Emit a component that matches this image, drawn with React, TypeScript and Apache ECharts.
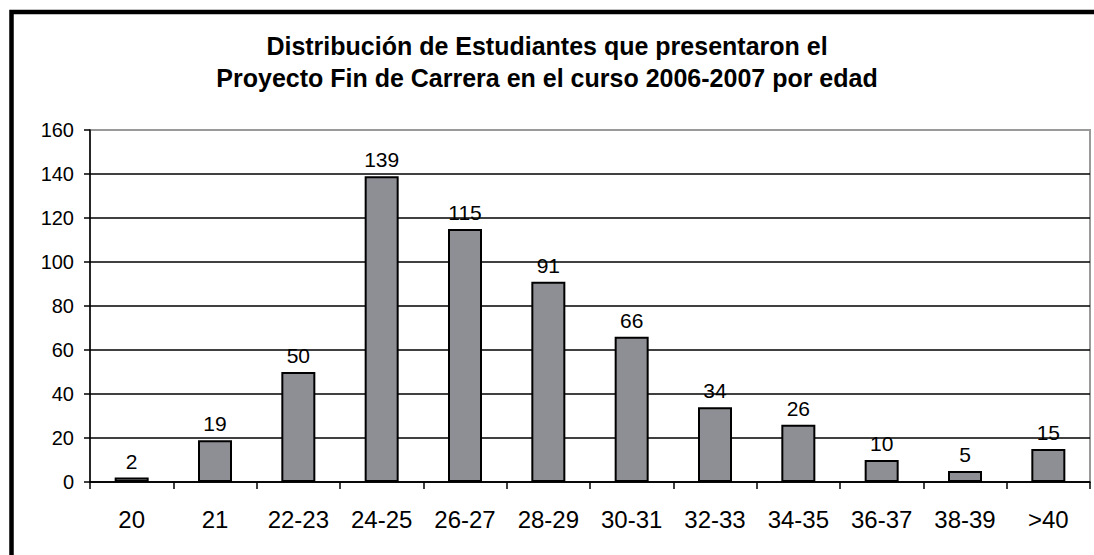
import React, { useEffect, useRef } from "react";
import * as echarts from "echarts";

const titleLines = [
  "Distribución de Estudiantes que presentaron el",
  "Proyecto Fin de Carrera en el curso 2006-2007 por edad",
];
const categories = ["20", "21", "22-23", "24-25", "26-27", "28-29", "30-31", "32-33", "34-35", "36-37", "38-39", ">40"];
const students = [2, 19, 50, 139, 115, 91, 66, 34, 26, 10, 5, 15];
const yMin = 0;
const yMax = 160;
const yStep = 20;

export default function App() {
  const ref = useRef<HTMLDivElement>(null);
  useEffect(() => {
    if (!ref.current) return;
    const chart = echarts.init(ref.current, null, { renderer: "svg" });
    const font = "Arial, 'Liberation Sans', sans-serif";
    const gridColors = [] as string[];
    for (let v = yMin; v <= yMax; v += yStep) gridColors.push(v === yMax ? "#9a9a9a" : "#000000");
    chart.setOption({
      animation: false,
      backgroundColor: "#ffffff",
      title: {
        text: titleLines.join("\n"),
        left: "center",
        top: 25,
        textStyle: {
          fontFamily: font,
          fontSize: 25,
          fontWeight: "bold",
          color: "#000",
          lineHeight: 32,
        },
      },
      graphic: [
        {
          type: "rect",
          shape: { x: 11.5, y: 12, width: 1200, height: 800 },
          style: { fill: "none", stroke: "#000", lineWidth: 4.5 },
          silent: true,
        },
      ],
      grid: {
        left: 90,
        top: 130,
        width: 1000,
        height: 352,
        show: true,
        borderColor: "#9a9a9a",
        borderWidth: 2,
        backgroundColor: "transparent",
      },
      xAxis: {
        type: "category",
        data: categories,
        boundaryGap: true,
        axisLine: { lineStyle: { color: "#000", width: 1.5 } },
        axisTick: { show: true, length: 7, inside: false, lineStyle: { color: "#000", width: 1.5 } },
        axisLabel: { fontFamily: font, fontSize: 24, color: "#000", margin: 25 },
      },
      yAxis: {
        type: "value",
        min: yMin,
        max: yMax,
        interval: yStep,
        axisLine: { show: true, lineStyle: { color: "#000", width: 1.5 } },
        axisTick: { show: true, length: 6, inside: false, lineStyle: { color: "#000", width: 1.5 } },
        axisLabel: { fontFamily: font, fontSize: 20, color: "#000", margin: 16 },
        splitLine: { show: true, lineStyle: { color: gridColors, width: 1.5 } },
      },
      series: [
        {
          type: "bar",
          data: students,
          barWidth: 34,
          itemStyle: { color: "#8e8e95", borderColor: "#000", borderWidth: 2 },
          label: {
            show: true,
            position: "top",
            distance: 6,
            fontFamily: font,
            fontSize: 21,
            color: "#000",
          },
        },
      ],
    });
    return () => chart.dispose();
  }, []);
  return (
    <div
      ref={ref}
      style={{ position: "absolute", left: 0, top: 0, width: 1094, height: 555, background: "#fff" }}
    />
  );
}
